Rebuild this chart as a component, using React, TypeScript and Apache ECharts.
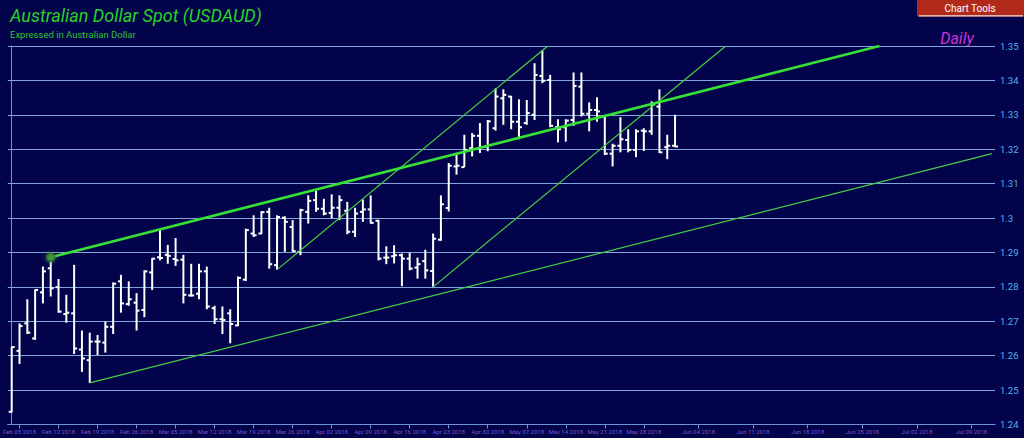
import React, { useEffect, useRef } from "react";
import * as echarts from "echarts";

// OHLC values, one per trading day (index 0 = Feb 02 2018 ... index 85 = Jun 01 2018)
const open = [
  1.2437, 1.2614, 1.2694, 1.265, 1.2784, 1.2854, 1.2799, 1.2721, 1.2723, 1.2618,
  1.2587, 1.2641, 1.2638, 1.2684, 1.2816, 1.275, 1.2754, 1.2733, 1.2842, 1.2886,
  1.2893, 1.2881, 1.2879, 1.2775, 1.278, 1.2845, 1.2738, 1.2706, 1.2723, 1.2688,
  1.2821, 1.2955, 1.2955, 1.3018, 1.2863, 1.3001, 1.2974, 1.2902, 1.3018, 1.3052,
  1.3027, 1.3015, 1.303, 1.3021, 1.296, 1.3018, 1.3025, 1.2992, 1.2885, 1.2889,
  1.2892, 1.2882, 1.2856, 1.2875, 1.2846, 1.2937, 1.3029, 1.315, 1.3148, 1.3203,
  1.3239, 1.3208, 1.3261, 1.3348, 1.3353, 1.328, 1.3276, 1.33, 1.3413, 1.3401,
  1.3264, 1.3264, 1.3285, 1.3382, 1.3303, 1.3314, 1.3295, 1.3187, 1.321, 1.3227,
  1.3198, 1.3254, 1.3252, 1.3324, 1.3206, 1.321,
];
const high = [
  1.2626, 1.2694, 1.2764, 1.2793, 1.2859, 1.2874, 1.2823, 1.2777, 1.2864, 1.2673,
  1.2667, 1.266, 1.2699, 1.2813, 1.2835, 1.2816, 1.2782, 1.2848, 1.2884, 1.2966,
  1.2922, 1.2942, 1.2893, 1.2867, 1.2867, 1.2859, 1.2745, 1.2743, 1.2735, 1.283,
  1.2969, 1.3008, 1.302, 1.303, 1.3008, 1.3005, 1.2994, 1.3027, 1.3066, 1.3081,
  1.3056, 1.3069, 1.3066, 1.3047, 1.303, 1.3054, 1.3066, 1.2995, 1.2918, 1.2921,
  1.2897, 1.2899, 1.2885, 1.2908, 1.2955, 1.3066, 1.316, 1.3184, 1.3242, 1.3247,
  1.3276, 1.3285, 1.3377, 1.3374, 1.3355, 1.3345, 1.3343, 1.345, 1.3488, 1.3416,
  1.3287, 1.3287, 1.3423, 1.3423, 1.3336, 1.3351, 1.33, 1.3216, 1.3293, 1.3258,
  1.3258, 1.3261, 1.3339, 1.3374, 1.3242, 1.33,
];
const low = [
  1.2435, 1.2576, 1.2663, 1.2646, 1.2752, 1.2772, 1.2725, 1.2696, 1.2605, 1.2553,
  1.2521, 1.2602, 1.2609, 1.2663, 1.2725, 1.2745, 1.2673, 1.2712, 1.2791, 1.2877,
  1.2867, 1.2861, 1.2752, 1.2772, 1.2764, 1.2735, 1.2692, 1.2663, 1.2636, 1.2686,
  1.2817, 1.2945, 1.2953, 1.2853, 1.285, 1.2902, 1.2902, 1.2892, 1.2984, 1.3018,
  1.3008, 1.2999, 1.2994, 1.2953, 1.2945, 1.2989, 1.2984, 1.2877, 1.2866, 1.2868,
  1.2802, 1.2848, 1.2824, 1.2824, 1.28, 1.2934, 1.3019, 1.3126, 1.3148, 1.3179,
  1.3189, 1.3194, 1.3254, 1.3271, 1.3258, 1.3229, 1.3271, 1.3285, 1.3392, 1.3264,
  1.322, 1.3222, 1.3268, 1.3295, 1.3252, 1.328, 1.3183, 1.315, 1.3191, 1.3191,
  1.3177, 1.3195, 1.3242, 1.3189, 1.3171, 1.3206,
];
const close = [
  1.2625, 1.2686, 1.2667, 1.2791, 1.2845, 1.2796, 1.2728, 1.2725, 1.2621, 1.2592,
  1.2641, 1.2641, 1.2684, 1.2809, 1.2752, 1.2764, 1.2731, 1.2845, 1.2882, 1.2884,
  1.289, 1.2877, 1.2777, 1.2775, 1.2845, 1.2743, 1.2706, 1.2704, 1.2692, 1.2826,
  1.2965, 1.295, 1.3017, 1.2866, 1.3003, 1.2989, 1.2904, 1.3023, 1.305, 1.3027,
  1.3013, 1.303, 1.3052, 1.296, 1.3013, 1.3025, 1.2986, 1.2882, 1.2885, 1.2892,
  1.2882, 1.2853, 1.2866, 1.2848, 1.294, 1.304, 1.3152, 1.3152, 1.3198, 1.3239,
  1.3206, 1.3281, 1.3353, 1.3358, 1.328, 1.3264, 1.3305, 1.3416, 1.3399, 1.3268,
  1.3258, 1.3283, 1.3384, 1.3303, 1.3314, 1.331, 1.3187, 1.321, 1.3229, 1.3198,
  1.3252, 1.3252, 1.3329, 1.3191, 1.321, 1.3208,
];

// x-axis tick slots (trading-day slots, then calendar-day slots after the data) and labels
const tickSlots = [1, 6, 11, 16, 21, 26, 31, 36, 41, 46, 51, 56, 61, 66, 71, 76, 81, 88, 95, 102, 109, 116, 123];
const tickLabels = [
  "Feb 05 2018", "Feb 12 2018", "Feb 19 2018", "Feb 26 2018", "Mar 05 2018", "Mar 12 2018",
  "Mar 19 2018", "Mar 26 2018", "Apr 02 2018", "Apr 09 2018", "Apr 16 2018", "Apr 23 2018",
  "Apr 30 2018", "May 07 2018", "May 14 2018", "May 21 2018", "May 28 2018", "Jun 04 2018",
  "Jun 11 2018", "Jun 18 2018", "Jun 25 2018", "Jul 02 2018", "Jul 09 2018",
];

// trend lines: [slot, price] pairs
const trendThick = [[5, 1.2886], [111.2, 1.35]];
const trendLower = [[10, 1.2521], [125.6, 1.3187]];
const trendSteepA = [[34, 1.285], [68.7, 1.35]];
const trendSteepB = [[54, 1.28], [91.5, 1.35]];
const anchorPoint = [[5, 1.2886]];

export default function App() {
  const ref = useRef<HTMLDivElement>(null);
  useEffect(() => {
    if (!ref.current) return;
    const chart = echarts.init(ref.current, undefined, { renderer: "svg" });
    const ohlc = open.map((o, i) => [i, o, high[i], low[i], close[i]]);
    const thinStyle = { color: "#45cf45", width: 1.2 };
    const option: any = {
      animation: false,
      backgroundColor: "#03034b",
      grid: { left: 5, right: 29, top: 46, bottom: 13.5 },
      xAxis: {
        type: "value",
        min: -0.5,
        max: 126,
        axisLine: { show: true, lineStyle: { color: "#6d95d6", width: 1 } },
        axisTick: { show: true, customValues: tickSlots, length: 4, lineStyle: { color: "#6d95d6" } },
        axisLabel: {
          customValues: tickSlots,
          formatter: (v: number) => tickLabels[tickSlots.indexOf(Math.round(v))] || "",
          color: "#7658cc",
          fontSize: 6,
          fontFamily: "Roboto",
          margin: 4,
        },
        splitLine: { show: false },
      },
      yAxis: {
        type: "value",
        position: "right",
        min: 1.24,
        max: 1.35,
        interval: 0.01,
        axisLine: { show: true, lineStyle: { color: "#6d95d6", width: 1 } },
        axisTick: { show: false },
        axisLabel: {
          color: "#52b4ea",
          fontSize: 9.5,
          fontFamily: "Liberation Sans Narrow, Roboto",
          margin: 5,
        },
        splitLine: { show: true, lineStyle: { color: "#7fa6dc", width: 1 } },
      },
      series: [
        {
          type: "custom",
          data: ohlc,
          encode: { x: 0, y: [1, 2, 3, 4] },
          renderItem: (params: any, api: any) => {
            const x = api.value(0);
            const o = api.coord([x, api.value(1)]);
            const h = api.coord([x, api.value(2)]);
            const l = api.coord([x, api.value(3)]);
            const c = api.coord([x, api.value(4)]);
            const style = { stroke: "#ffffff", lineWidth: 2 };
            return {
              type: "group",
              children: [
                { type: "line", shape: { x1: h[0], y1: h[1], x2: l[0], y2: l[1] }, style },
                { type: "line", shape: { x1: o[0] - 3, y1: o[1], x2: o[0], y2: o[1] }, style },
                { type: "line", shape: { x1: c[0], y1: c[1], x2: c[0] + 3, y2: c[1] }, style },
              ],
            };
          },
          z: 3,
        },
        { type: "line", data: trendLower, showSymbol: false, lineStyle: thinStyle, z: 4 },
        { type: "line", data: trendSteepA, showSymbol: false, lineStyle: thinStyle, z: 4 },
        { type: "line", data: trendSteepB, showSymbol: false, lineStyle: thinStyle, z: 4 },
        {
          type: "line",
          data: trendThick,
          showSymbol: false,
          lineStyle: { color: "#36e036", width: 2.6 },
          z: 5,
        },
        {
          type: "scatter",
          data: anchorPoint,
          symbolSize: 8,
          itemStyle: { color: "#3f9f3f", borderColor: "#2d6f2d", borderWidth: 1.5, shadowBlur: 4, shadowColor: "#3c8c3c" },
          z: 6,
        },
      ],
      graphic: [
        {
          type: "text",
          left: 10,
          top: 6,
          style: {
            text: "Australian Dollar Spot (USDAUD)",
            fill: "#27d327",
            font: "italic 18px Roboto",
          },
        },
        {
          type: "text",
          left: 10,
          top: 29,
          style: {
            text: "Expressed in Australian Dollar",
            fill: "#2fc42f",
            font: "9.5px Roboto",
          },
        },
        {
          type: "rect",
          shape: { x: 917, y: 0, width: 107, height: 16.5 },
          style: { fill: "#b0291b" },
        },
        {
          type: "line",
          shape: { x1: 919, y1: 15.8, x2: 1023, y2: 15.8 },
          style: { stroke: "#f4e6e2", lineWidth: 1.2 },
        },
        {
          type: "text",
          x: 970,
          y: 8,
          style: {
            text: "Chart Tools",
            fill: "#ffffff",
            font: "10px Roboto",
            align: "center",
            verticalAlign: "middle",
          },
        },
        {
          type: "text",
          x: 957,
          y: 38,
          style: {
            text: "Daily",
            fill: "#cc33d6",
            font: "italic 16px Roboto",
            align: "center",
            verticalAlign: "middle",
          },
        },
      ],
    };
    chart.setOption(option);
    return () => chart.dispose();
  }, []);
  return (
    <div
      ref={ref}
      style={{ position: "fixed", left: 0, top: 0, width: 1024, height: 438 }}
    />
  );
}
